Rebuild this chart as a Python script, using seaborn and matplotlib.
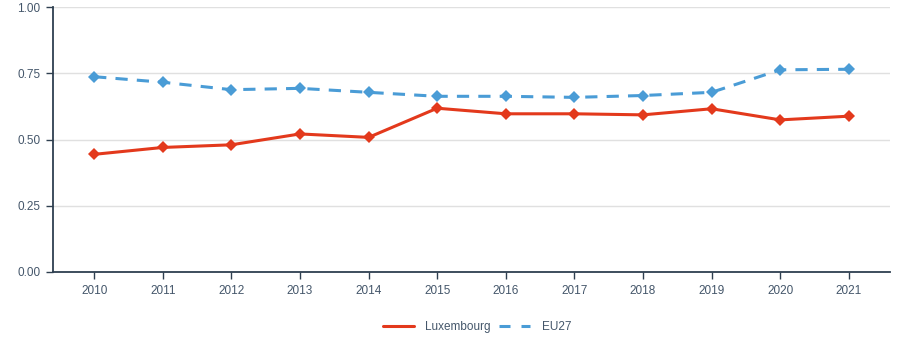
import matplotlib
matplotlib.use("Agg")
import matplotlib.pyplot as plt
import seaborn as sns
import pandas as pd
from matplotlib.lines import Line2D

years = [2010, 2011, 2012, 2013, 2014, 2015, 2016, 2017, 2018, 2019, 2020, 2021]
luxembourg = [0.444, 0.470, 0.480, 0.521, 0.508, 0.618, 0.597, 0.597, 0.593, 0.616, 0.574, 0.588]
eu27 = [0.737, 0.716, 0.688, 0.693, 0.678, 0.663, 0.663, 0.659, 0.666, 0.678, 0.763, 0.765]
series_names = ["Luxembourg", "EU27"]
y_ticks = [0.00, 0.25, 0.50, 0.75, 1.00]

df = pd.DataFrame({
    "year": years * 2,
    "value": luxembourg + eu27,
    "series": [series_names[0]] * len(years) + [series_names[1]] * len(years),
})

sns.set_theme(style="white")
plt.rcParams["font.family"] = ["Liberation Sans", "DejaVu Sans"]

text_c = "#44566a"
axis_c = "#2e3f50"
colors = {"Luxembourg": "#e3391c", "EU27": "#4a9cd6"}

fig = plt.figure(figsize=(8.98, 3.59), dpi=100)
ax = fig.add_axes([53 / 898, 1 - 272 / 359, (890 - 53) / 898, (272 - 7) / 359])

sns.lineplot(data=df, x="year", y="value", hue="series", style="series",
             palette=colors, dashes={"Luxembourg": "", "EU27": (4, 3)},
             markers={"Luxembourg": "D", "EU27": "D"}, markersize=6,
             markeredgewidth=0, linewidth=2.2, ax=ax, legend=False)

ax.set_xlim(2009.40, 2021.6)
ax.set_ylim(0, 1)
ax.set_xticks(years)
ax.set_xticklabels([str(y) for y in years])
ax.set_yticks(y_ticks)
ax.set_yticklabels([f"{t:.2f}" for t in y_ticks])
ax.set_xlabel("")
ax.set_ylabel("")
ax.grid(axis="y", color="#e0e0e0", linewidth=1)
ax.set_axisbelow(True)
for s in ["top", "right"]:
    ax.spines[s].set_visible(False)
for s in ["left", "bottom"]:
    ax.spines[s].set_color(axis_c)
    ax.spines[s].set_linewidth(1.3)
ax.tick_params(axis="both", colors=text_c, labelsize=8.5, length=5, width=1,
               direction="out", bottom=True, left=True, pad=4)
ax.tick_params(axis="both", color=axis_c)

handles = [Line2D([0], [0], color=colors["Luxembourg"], lw=2.2),
           Line2D([0], [0], color=colors["EU27"], lw=2.2, dashes=(3.6, 3.6))]
leg = fig.legend(handles, series_names, loc="center", bbox_to_anchor=(477 / 898, 1 - 327 / 359),
                 ncol=2, frameon=False, fontsize=8.5, handlelength=2.6, columnspacing=0.7,
                 handletextpad=1.0)
for t in leg.get_texts():
    t.set_color(text_c)

fig.savefig("out.png", dpi=100)
